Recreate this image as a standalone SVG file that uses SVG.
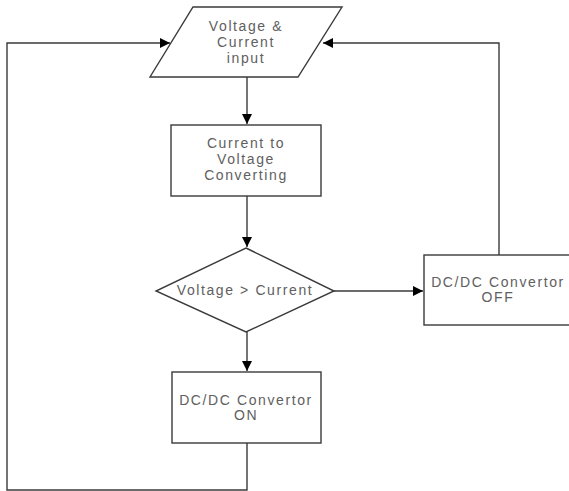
<svg xmlns="http://www.w3.org/2000/svg" width="569" height="491" viewBox="0 0 569 491">
<style>
.shape{fill:#fff;stroke:#3a3a3a;stroke-width:1.4}
.conn{fill:none;stroke:#3a3a3a;stroke-width:1.4}
.t{font-family:"Liberation Sans",Arial,sans-serif;font-size:14px;fill:#606060;text-anchor:middle;letter-spacing:1.6px}
</style>
<defs>
<marker id="ah" viewBox="0 0 10 10" refX="10" refY="5" markerWidth="10" markerHeight="10" markerUnits="userSpaceOnUse" orient="auto">
<path d="M0,0 L10,5 L0,10 Z" fill="#000"/>
</marker>
</defs>
<rect width="569" height="491" fill="#fff"/>
<g id="connectors">
<path class="conn" d="M247,77 V124" marker-end="url(#ah)"/>
<path class="conn" d="M247,196 V247" marker-end="url(#ah)"/>
<path class="conn" d="M334,291 H423" marker-end="url(#ah)"/>
<path class="conn" d="M247,332 V371" marker-end="url(#ah)"/>
<path class="conn" d="M499,255 V43 H323" marker-end="url(#ah)"/>
<path class="conn" d="M247,443 V490 H7 V43 H170" marker-end="url(#ah)"/>
</g>
<g id="input">
<polygon class="shape" points="193,7 342,7 298,77 150,77"/>
<text class="t" x="246" y="31">Voltage &amp;</text>
<text class="t" x="246" y="47">Current</text>
<text class="t" x="246" y="63">input</text>
</g>
<g id="convert">
<rect class="shape" x="171" y="125" width="150" height="71"/>
<text class="t" x="246" y="148">Current to</text>
<text class="t" x="246" y="164">Voltage</text>
<text class="t" x="246" y="180">Converting</text>
</g>
<g id="decision">
<polygon class="shape" points="246,248 334,291 246,332 156,291"/>
<text class="t" x="245" y="295">Voltage &gt; Current</text>
</g>
<g id="off">
<rect class="shape" x="424" y="255" width="150" height="70"/>
<text class="t" x="498" y="287">DC/DC Convertor</text>
<text class="t" x="498" y="302">OFF</text>
</g>
<g id="on">
<rect class="shape" x="172" y="372" width="149" height="71"/>
<text class="t" x="246" y="405">DC/DC Convertor</text>
<text class="t" x="246" y="420">ON</text>
</g>
</svg>
